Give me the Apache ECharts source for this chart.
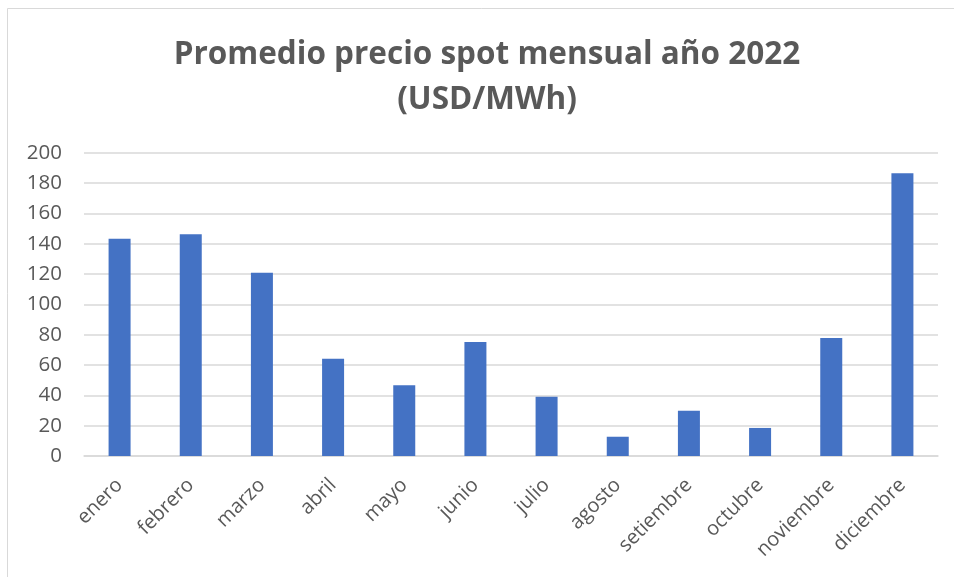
<!DOCTYPE html>
<html>
<head>
<meta charset="utf-8">
<script src="https://cdn.jsdelivr.net/npm/echarts@6/dist/echarts.min.js"></script>
<style>
  html, body { margin: 0; padding: 0; background: #fff; }
  #chart { width: 954px; height: 577px; }
</style>
</head>
<body>
<div id="chart"></div>
<script>
var meses = ['enero', 'febrero', 'marzo', 'abril', 'mayo', 'junio', 'julio', 'agosto', 'setiembre', 'octubre', 'noviembre', 'diciembre'];
var precios = [143.3, 146.2, 120.9, 64.2, 46.6, 75.2, 39.1, 12.7, 29.9, 18.5, 77.8, 186.4];
var titulo = 'Promedio precio spot mensual año 2022\n(USD/MWh)';

var chart = echarts.init(document.getElementById('chart'));

var option = {
    backgroundColor: '#ffffff',
    animation: false,
    graphic: [{
        type: 'rect',
        shape: { x: 7.5, y: 8.5, width: 960, height: 580 },
        style: { fill: 'none', stroke: '#d9d9d9', lineWidth: 1 }
    }, {
        // titulo centrado un poco a la derecha, como en el original
        type: 'text',
        x: 487,
        y: 33,
        style: {
            text: titulo,
            align: 'center',
            verticalAlign: 'top',
            fontFamily: 'Open Sans',
            fontWeight: 'bold',
            fontSize: 31.5,
            lineHeight: 45,
            fill: '#595959'
        }
    }],
    grid: {
        left: 84,
        right: 16,
        top: 152.7,
        bottom: 121
    },
    xAxis: {
        type: 'category',
        data: meses,
        axisLine: { lineStyle: { color: '#d9d9d9', width: 1.5 } },
        axisTick: { show: false },
        axisLabel: {
            rotate: 45,
            margin: 26,
            fontFamily: 'Open Sans',
            fontSize: 20,
            color: '#595959'
        }
    },
    yAxis: {
        type: 'value',
        min: 0,
        max: 200,
        interval: 20,
        axisLine: { show: false },
        axisTick: { show: false },
        splitLine: { lineStyle: { color: '#d9d9d9', width: 1.5 } },
        axisLabel: {
            margin: 22,
            fontFamily: 'Open Sans',
            fontSize: 20.5,
            color: '#595959'
        }
    },
    series: [{
        name: 'Precio',
        type: 'bar',
        data: precios,
        barWidth: 22,
        itemStyle: { color: '#4472c4' }
    }]
};

chart.setOption(option);
</script>
</body>
</html>
